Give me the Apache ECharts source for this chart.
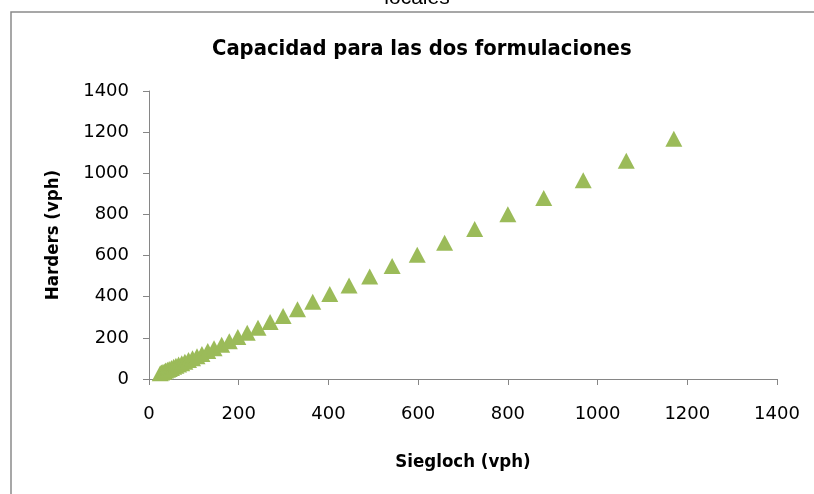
<!DOCTYPE html>
<html><head><meta charset="utf-8">
<script src="https://cdn.jsdelivr.net/npm/echarts@6/dist/echarts.min.js"></script>
<style>html,body{margin:0;padding:0;background:#fff;}#c{width:814px;height:494px;}</style>
</head><body><div id="c"></div>
<script>
var titleText = 'Capacidad para las dos formulaciones';
var xName = 'Siegloch (vph)';
var yName = 'Harders (vph)';
var siegloch = [25, 28, 31, 34, 37, 41, 45, 50, 55, 60, 66, 73, 80, 88, 97, 107, 118, 131, 145, 162, 179, 198, 219, 243, 270, 299, 331, 365, 403, 446, 492, 542, 598, 659, 726, 800, 880, 968, 1064, 1170];
var harders  = [28, 31, 34, 37, 41, 45, 49, 54, 59, 64, 70, 77, 84, 92, 101, 111, 122, 136, 150, 167, 184, 204, 225, 249, 277, 306, 339, 376, 413, 454, 498, 549, 604, 662, 729, 801, 880, 966, 1061, 1168];
var axisMin = 0, axisMax = 1400, axisStep = 200;

var pts = siegloch.map(function(v, i){ return [v, harders[i]]; });
var chart = echarts.init(document.getElementById('c'), null, {renderer:'canvas'});
var fmt = function(v){ return String(v); };
var tickFont = {fontFamily:'DejaVu Sans', fontSize:18, color:'#000', formatter:fmt};
var axisLine = {show:true, lineStyle:{color:'#868686', width:1}};
var nameFont = {fontFamily:'DejaVu Sans Condensed', fontWeight:'bold', fontSize:18.5, color:'#000'};
chart.setOption({
  animation:false,
  backgroundColor:'#fff',
  title:{text:titleText, left:207, top:33,
    textStyle:{fontFamily:'DejaVu Sans Condensed', fontWeight:'bold', fontSize:21.8, color:'#000'}},
  graphic:[
    {type:'rect', shape:{x:11, y:12, width:900, height:600}, style:{fill:null, stroke:'#8a8a8a', lineWidth:1.5}, z:-1},
    {type:'text', x:417, y:-12, style:{text:'locales', fontFamily:'Liberation Sans', fontSize:21, fill:'#000', textAlign:'center'}}
  ],
  grid:{left:149, right:37, top:91, bottom:115},
  xAxis:{type:'value', min:axisMin, max:axisMax, interval:axisStep,
    name:xName, nameLocation:'middle', nameGap:74,
    nameTextStyle:nameFont,
    axisLine:axisLine, axisTick:{show:true, inside:false, length:6, lineStyle:{color:'#868686'}},
    axisLabel:Object.assign({margin:26}, tickFont), splitLine:{show:false}},
  yAxis:{type:'value', min:axisMin, max:axisMax, interval:axisStep,
    name:yName, nameLocation:'middle', nameGap:86,
    nameTextStyle:nameFont,
    axisLine:axisLine, axisTick:{show:true, inside:false, length:6, lineStyle:{color:'#868686'}},
    axisLabel:Object.assign({margin:20}, tickFont), splitLine:{show:false}},
  series:[{type:'scatter', data:pts, symbol:'triangle', symbolSize:[17,16],
    itemStyle:{color:'#9BBB59', opacity:1}}]
});
</script></body></html>
